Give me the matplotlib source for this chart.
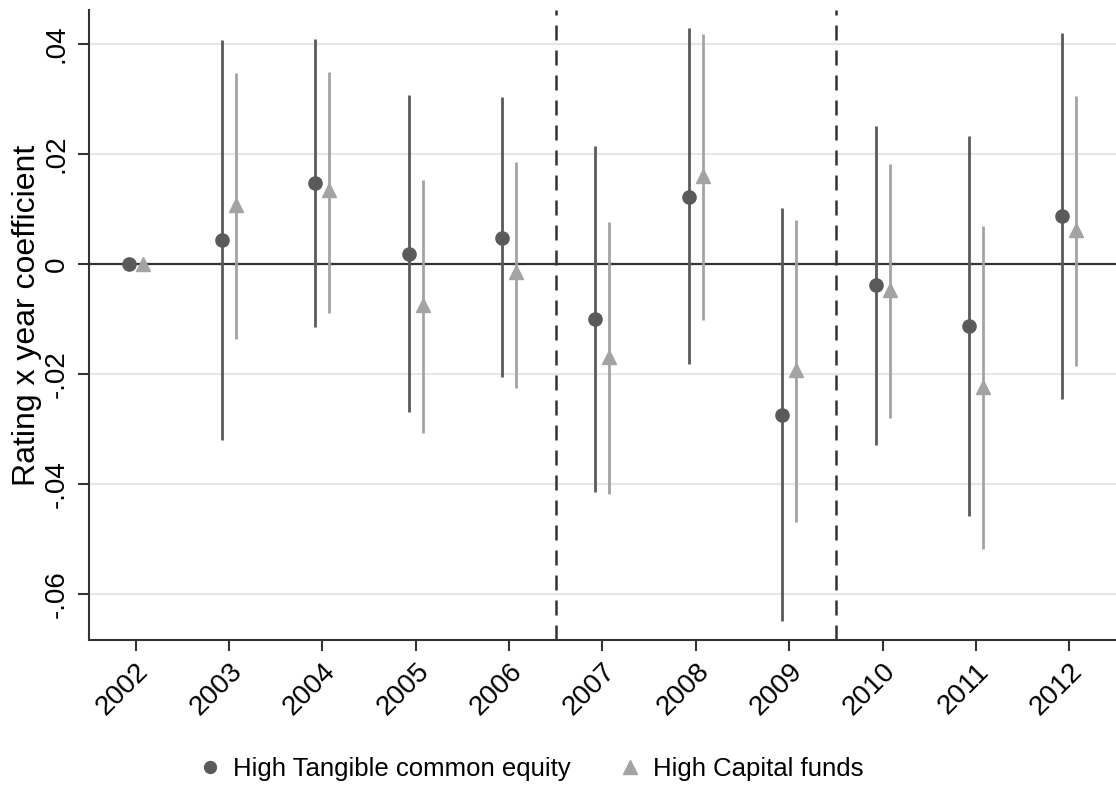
import matplotlib
matplotlib.use("Agg")
import matplotlib.pyplot as plt
import numpy as np

years = [2002, 2003, 2004, 2005, 2006, 2007, 2008, 2009, 2010, 2011, 2012]

tce_coef = [0.0, 0.0043, 0.0147, 0.0018, 0.0047, -0.0100, 0.0122, -0.0275, -0.0038, -0.0113, 0.0087]
tce_hi = [0.0, 0.0407, 0.0410, 0.0307, 0.0304, 0.0215, 0.0429, 0.0102, 0.0251, 0.0233, 0.0420]
tce_lo = [0.0, -0.0320, -0.0115, -0.0270, -0.0205, -0.0415, -0.0182, -0.0650, -0.0330, -0.0458, -0.0245]

cap_coef = [0.0, 0.0107, 0.0135, -0.0075, -0.0015, -0.0169, 0.0160, -0.0193, -0.0047, -0.0224, 0.0062]
cap_hi = [0.0, 0.0347, 0.0349, 0.0153, 0.0185, 0.0076, 0.0418, 0.0080, 0.0182, 0.0069, 0.0305]
cap_lo = [0.0, -0.0136, -0.0089, -0.0307, -0.0225, -0.0418, -0.0102, -0.0470, -0.0280, -0.0518, -0.0186]

yticks = [-0.06, -0.04, -0.02, 0, 0.02, 0.04]
ytick_labels = ["-.06", "-.04", "-.02", "0", ".02", ".04"]
break_years = [2006.5, 2009.5]

plt.rcParams['font.family'] = ['Liberation Sans', 'DejaVu Sans']

fig = plt.figure(figsize=(11.16, 7.85), dpi=100)
ax = fig.add_axes([0.0797, 0.1847, 0.9203, 0.8026])

dark = "#5a5a5a"
light = "#a3a3a3"
off = 0.075
x = np.array(years, dtype=float)

for yv in yticks:
    if yv != 0:
        ax.axhline(yv, color="#e6e6e6", lw=1.5, zorder=0)
ax.axhline(0, color="#333333", lw=1.6, zorder=1)
for b in break_years:
    ax.axvline(b, color="#333333", lw=1.8, ls=(0, (6, 4)), zorder=1)

ax.vlines(x - off, tce_lo, tce_hi, color=dark, lw=2, zorder=2)
ax.vlines(x + off, cap_lo, cap_hi, color=light, lw=2, zorder=2)
ax.plot(x - off, tce_coef, "o", color=dark, ms=9.5, ls="none", zorder=3,
        label="High Tangible common equity")
ax.plot(x + off, cap_coef, "^", color=light, ms=10.5, ls="none", zorder=3,
        label="High Capital funds")

ax.set_xlim(2001.5, 2012.5)
ax.set_ylim(-0.0684, 0.0462)
ax.set_xticks(years)
ax.set_xticklabels([str(y) for y in years], rotation=45, ha="right",
                   rotation_mode="anchor", fontsize=20)
ax.set_yticks(yticks)
ax.set_yticklabels(ytick_labels, rotation=90, va="center", fontsize=20)
ax.tick_params(axis="both", length=8, width=1.5, color="#333333")
ax.tick_params(axis="x", pad=5)
ax.tick_params(axis="y", pad=6)
ax.set_ylabel("Rating x year coefficient", fontsize=23)
ax.yaxis.set_label_coords(-0.046, 0.515)

for s in ["top", "right"]:
    ax.spines[s].set_visible(False)
for s in ["left", "bottom"]:
    ax.spines[s].set_color("#333333")
    ax.spines[s].set_linewidth(1.5)

fig.legend(loc="center", bbox_to_anchor=(0.474, 0.021), ncol=2, frameon=False,
           fontsize=18.5, handletextpad=0.3, handlelength=1.2,
           columnspacing=1.7, markerscale=0.9)

fig.savefig("out.png", dpi=100)
